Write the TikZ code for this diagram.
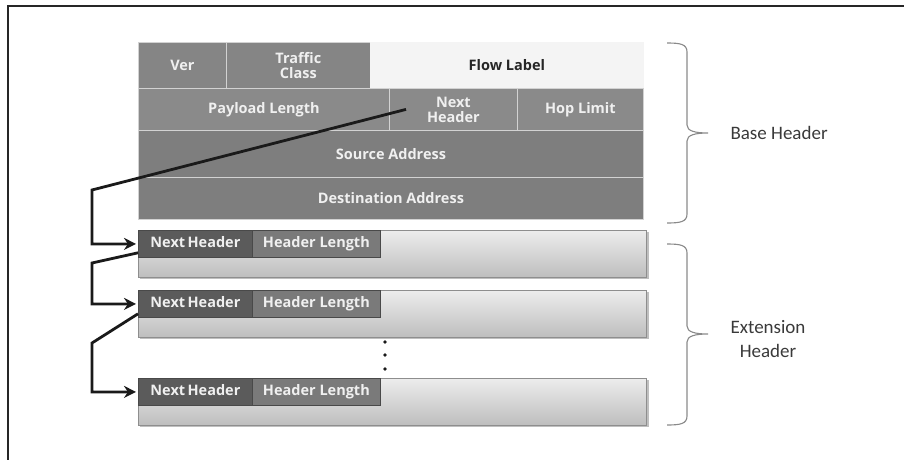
\documentclass[tikz,border=0pt]{standalone}
\usepackage{fontspec}
\usetikzlibrary{arrows.meta,calc,positioning}
\newfontfamily\cellfont{Open Sans}
\newfontfamily\notefont{Carlito}
\definecolor{rowA}{HTML}{858585}
\definecolor{rowB}{HTML}{8A8A8A}
\definecolor{rowC}{HTML}{7E7E7E}
\definecolor{flowbg}{HTML}{F4F4F4}
\definecolor{sepline}{HTML}{D2D2D2}
\definecolor{nhdark}{HTML}{5B5B5B}
\definecolor{hldark}{HTML}{7A7A7A}
\definecolor{boxtop}{HTML}{EDEDED}
\definecolor{boxbot}{HTML}{BEBEBE}
\definecolor{boxedge}{HTML}{8E8E8E}
\definecolor{bracegray}{HTML}{8A8A8A}
\definecolor{notetext}{HTML}{3A3A3A}
\definecolor{wire}{HTML}{1A1A1A}
\tikzset{
  cell/.style={draw=sepline, line width=0.8pt, anchor=north west, inner sep=0pt,
    text=white!94!black, font=\cellfont\bfseries\fontsize{14.5}{16}\selectfont, align=center},
  extbox/.style={draw=boxedge, line width=0.8pt, top color=boxtop, bottom color=boxbot,
    anchor=north west, minimum width=508pt, minimum height=47pt, inner sep=0pt},
  stripcell/.style={draw=nhdark!80!black, line width=0.8pt, anchor=north west,
    minimum height=27pt, inner sep=0pt, text height=10.5pt, text depth=3.5pt,
    text=white!94!black, font=\cellfont\bfseries\fontsize{14.5}{16}\selectfont},
  link/.style={draw=wire, line width=2.8pt, -{Stealth[length=12pt,width=12pt]}, shorten >=2pt},
  bracepath/.style={draw=bracegray, line width=1.1pt},
  note/.style={text=notetext, font=\notefont\fontsize{19}{24}\selectfont, align=center},
  dot/.style={circle, fill=wire, inner sep=0pt, minimum size=3.6pt}
}
\begin{document}
\begin{tikzpicture}[x=1pt, y=-1pt]
\useasboundingbox (0,0) rectangle (904,460);
% outer frame (top and left edges only)
\draw[line width=2.4pt, draw=black!85] (8,460) -- (8,6) -- (904,6);

% ---- base header ----
\node[cell, fill=rowA, minimum width=88pt, minimum height=46pt] (ver) at (138,42) {Ver};
\node[cell, fill=rowA, minimum width=144pt, minimum height=46pt] (tc) at (226,42) {Traffic\\[-1pt]Class};
\node[cell, fill=flowbg, draw=flowbg, minimum width=273pt, minimum height=46pt, text=black!85] (fl) at (370,42) {Flow Label};
\node[cell, fill=rowB, minimum width=251pt, minimum height=42pt] (pl) at (138,88) {Payload Length};
\node[cell, fill=rowB, minimum width=128pt, minimum height=42pt] (nh) at (389,88) {Next\\[-1pt]Header};
\node[cell, fill=rowB, minimum width=126pt, minimum height=42pt] (hl) at (517,88) {Hop Limit};
\node[cell, fill=rowC, minimum width=505pt, minimum height=47pt] (src) at (138,130) {Source Address};
\node[cell, fill=rowC, minimum width=505pt, minimum height=42pt] (dst) at (138,177) {Destination Address};

% ---- extension headers ----
\foreach \i/\y in {1/230, 2/290, 3/378} {
  \fill[black!25] (140,\y+2) rectangle (649,\y+49);
  \node[extbox] (ext\i) at (138,\y) {};
  \node[stripcell, fill=nhdark, minimum width=114pt] (enh\i) at (138,\y) {Next\,Header};
  \node[stripcell, fill=hldark, minimum width=128pt] (ehl\i) at (252,\y) {Header Length};
}
\node[dot] (d1) at (385,342) {};
\node[dot] (d2) at (385,355) {};
\node[dot] (d3) at (385,369) {};

% ---- next-header chain ----
\coordinate (nhstart) at ($(nh.west)+(17,0)$);
\coordinate (bendA) at (92,190);
\coordinate (startB) at ($(enh1.south west)+(0,-5)$);
\coordinate (bendB) at (92,263);
\coordinate (startC) at ($(enh2.south west)+(0,-4)$);
\coordinate (bendC) at (92,343);
\draw[link] (nhstart) -- (bendA) |- (enh1.west);
\draw[link] (startB) -- (bendB) |- (enh2.west);
\draw[link] (startC) -- (bendC) |- (enh3.west);

% ---- braces ----
\coordinate (tipBase) at (708,133);
\coordinate (tipExt) at (708,334);
\draw[bracepath] (667,43) .. controls (680,43) and (687,44) .. (687,52) -- (687,125)
  .. controls (687,131) and (695,133) .. (tipBase)
  .. controls (695,133) and (687,135) .. (687,141) -- (687,214)
  .. controls (687,222) and (680,223) .. (667,223);
\draw[bracepath] (667,244) .. controls (680,244) and (687,245) .. (687,253) -- (687,326)
  .. controls (687,332) and (695,334) .. (tipExt)
  .. controls (695,334) and (687,336) .. (687,342) -- (687,416)
  .. controls (687,424) and (680,425) .. (667,425);
\node[note, anchor=west] (lbase) at (727,133) {Base Header};
\node[note] (lext) at (768,339) {Extension\\Header};
\end{tikzpicture}
\end{document}
